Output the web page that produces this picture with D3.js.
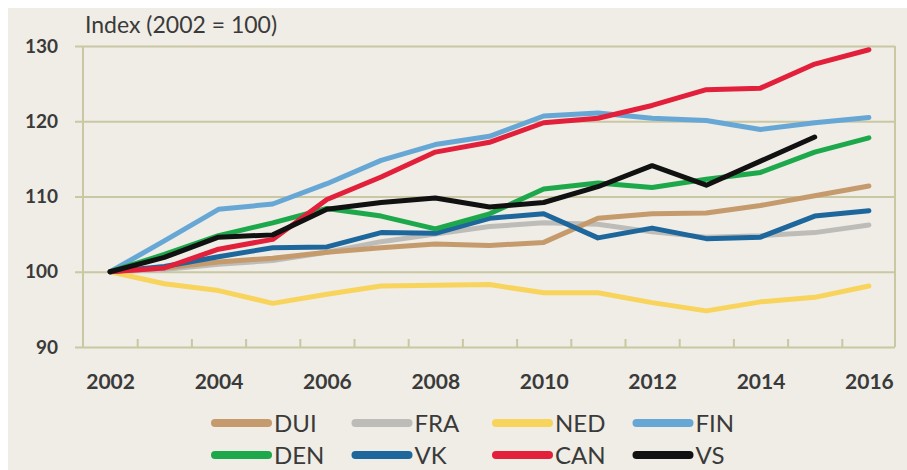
<!DOCTYPE html>
<html>
<head>
<meta charset="utf-8">
<script src="https://cdn.jsdelivr.net/npm/d3@7"></script>
<style>
	body { margin: 0; background: #fff; }
	#chart { position: absolute; left: 0; top: 0; }
</style>
</head>
<body>
<div id="chart"></div>
<script>
(function () {

	var years = [2002, 2003, 2004, 2005, 2006, 2007, 2008, 2009, 2010, 2011, 2012, 2013, 2014, 2015, 2016];
	var yTicks = [90, 100, 110, 120, 130];
	var xLabels = [2002, 2004, 2006, 2008, 2010, 2012, 2014, 2016];

	var dui = [100, 100.5, 101.3, 101.8, 102.6, 103.2, 103.7, 103.5, 103.9, 107.1, 107.7, 107.8, 108.8, 110.1, 111.4];
	var fra = [100, 100.3, 101, 101.5, 102.6, 104, 105, 106, 106.5, 106.3, 105.3, 104.6, 104.8, 105.2, 106.2];
	var ned = [100, 98.4, 97.5, 95.8, 97, 98.1, 98.2, 98.3, 97.2, 97.2, 95.9, 94.8, 96, 96.6, 98.1];
	var fin = [100, 104.1, 108.3, 109, 111.7, 114.8, 116.9, 118, 120.7, 121.1, 120.4, 120.1, 118.9, 119.8, 120.5];
	var den = [100, 102.3, 104.8, 106.5, 108.4, 107.4, 105.7, 107.7, 111, 111.8, 111.2, 112.3, 113.2, 115.9, 117.8];
	var vk = [100, 100.7, 102, 103.2, 103.3, 105.2, 105.1, 107.1, 107.7, 104.5, 105.8, 104.4, 104.6, 107.4, 108.1];
	var can = [100, 100.5, 103, 104.3, 109.6, 112.6, 115.9, 117.2, 119.8, 120.4, 122.1, 124.2, 124.4, 127.6, 129.5];
	var vs = [100, 101.9, 104.6, 104.9, 108.3, 109.2, 109.8, 108.6, 109.2, 111.3, 114.1, 111.5, 114.7, 117.9];

	var series = [
		{ name: "DUI", values: dui, color: "#c59b6d" },
		{ name: "FRA", values: fra, color: "#bdbcb8" },
		{ name: "NED", values: ned, color: "#f8d45c" },
		{ name: "FIN", values: fin, color: "#67a7d6" },
		{ name: "DEN", values: den, color: "#1ea84c" },
		{ name: "VK", values: vk, color: "#1d679c" },
		{ name: "CAN", values: can, color: "#e2203b" },
		{ name: "VS", values: vs, color: "#111111" }
	];
	// drawing order, black on top
	var drawOrder = ["FRA", "DUI", "NED", "FIN", "VK", "DEN", "CAN", "VS"];

	var width = 907, height = 470;
	var svg = d3.select('#chart').append("svg").attr('width', width).attr('height', height);

	svg.append("rect")
		.attr("x", 8).attr("y", 8)
		.attr("width", width - 8).attr("height", height - 8)
		.attr("fill", "#efede5");

	var xScale = d3.scaleLinear().domain([2001.5, 2016.5]).range([83, 896]);
	var yScale = d3.scaleLinear().domain([90, 130]).range([347, 46]);

	var gridColor = "#cac7a3";
	var textColor = "#3a3a3a";

	// horizontal grid with small stubs to the left
	svg.append("g")
		.attr("transform", "translate(895,0)")
		.call(d3.axisLeft(yScale).tickValues(yTicks).tickSize(820).tickFormat(""))
		.call(g => g.select(".domain").remove())
		.call(g => g.selectAll(".tick line").attr("stroke", gridColor).attr("stroke-width", 2));

	svg.append("g")
		.attr("transform", "translate(60,0)")
		.call(d3.axisLeft(yScale).tickValues(yTicks).tickSize(0).tickPadding(2))
		.call(g => g.select(".domain").remove())
		.call(g => g.selectAll("text")
			.attr("fill", textColor)
			.style("font-family", "Lato, 'Open Sans', sans-serif")
			.style("font-weight", "700")
			.style("font-size", "19px"));

	// frame
	svg.append("line").attr("x1", xScale(2001.5)).attr("x2", xScale(2001.5))
		.attr("y1", yScale(130)).attr("y2", yScale(90))
		.attr("stroke", gridColor).attr("stroke-width", 2);
	svg.append("line").attr("x1", 895).attr("x2", 895)
		.attr("y1", yScale(130)).attr("y2", yScale(90))
		.attr("stroke", gridColor).attr("stroke-width", 2);

	// year boundary ticks pointing up
	var boundaries = years.slice(0, years.length - 1).map(y => y + 0.5);
	svg.append("g")
		.attr("transform", "translate(0," + yScale(90) + ")")
		.call(d3.axisBottom(xScale).tickValues(boundaries).tickSize(-8).tickFormat(""))
		.call(g => g.select(".domain").remove())
		.call(g => g.selectAll(".tick line").attr("stroke", gridColor).attr("stroke-width", 2));

	svg.append("g")
		.attr("transform", "translate(0," + (yScale(90) + 24) + ")")
		.call(d3.axisBottom(xScale).tickValues(xLabels).tickSize(0).tickFormat(d3.format("d")))
		.call(g => g.select(".domain").remove())
		.call(g => g.selectAll("text")
			.attr("fill", textColor)
			.style("font-family", "Lato, 'Open Sans', sans-serif")
			.style("font-weight", "700")
			.style("font-size", "21px"));

	svg.append("text")
		.attr("x", 85).attr("y", 33)
		.attr("fill", textColor)
		.style("font-family", "Lato, 'Open Sans', sans-serif")
		.style("font-size", "23px")
		.text("Index (2002 = 100)");

	var line = d3.line()
		.x((d, i) => xScale(years[i]))
		.y(d => yScale(d));

	var ordered = drawOrder.map(n => series.find(s => s.name == n));
	svg.append("g").selectAll("path").data(ordered)
		.enter()
		.append("path")
		.attr("d", d => line(d.values))
		.attr("fill", "none")
		.attr("stroke", d => d.color)
		.attr("stroke-width", 5)
		.attr("stroke-linejoin", "round")
		.attr("stroke-linecap", "round");

	// legend, 4 columns x 2 rows
	var legend = svg.append("g").selectAll("g").data(series)
		.enter()
		.append("g")
		.attr("transform", (d, i) => "translate(" + (212 + (i % 4) * 140.5) + "," + (423 + Math.floor(i / 4) * 32) + ")");

	legend.append("line")
		.attr("x1", 3).attr("x2", 56)
		.attr("stroke", d => d.color)
		.attr("stroke-width", 8)
		.attr("stroke-linecap", "round");

	legend.append("text")
		.attr("x", 62).attr("dy", "0.36em")
		.attr("fill", textColor)
		.style("font-family", "Lato, 'Open Sans', sans-serif")
		.style("font-size", "24px")
		.text(d => d.name);

}());
</script>
</body>
</html>
